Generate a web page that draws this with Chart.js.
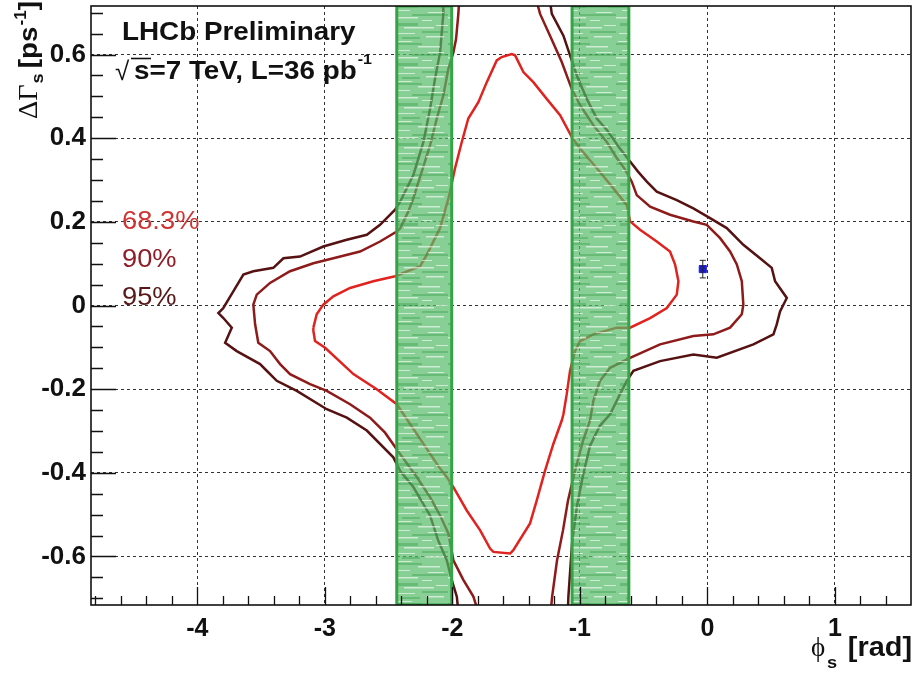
<!DOCTYPE html>
<html>
<head>
<meta charset="utf-8">
<script src="https://cdn.jsdelivr.net/npm/chart.js@4.4.0/dist/chart.umd.min.js"></script>
<style>
  html, body { margin: 0; padding: 0; background: #fff; }
  #wrap { width: 917px; height: 675px; }
</style>
</head>
<body>
<div id="wrap"><canvas id="contourChart" width="917" height="675"></canvas></div>
<script>
// axis ranges and tick labels
const xRange = [-4.834, 1.597];
const yRange = [-0.716, 0.716];
const xTicks = [-4, -3, -2, -1, 0, 1];
const yTicks = [-0.6, -0.4, -0.2, 0, 0.2, 0.4, 0.6];
const xMinorStep = 0.2;
const yMinorStep = 0.05;

// phi_s ranges of the two green bands
const bandLeft = [-2.436, -2.005];
const bandRight = [-1.061, -0.616];

// SM prediction point
const smPhi = [-0.036];
const smDG = [0.087];
const smErr = [0.021];

// 68.3% CL contour (closed)
const cl68 = [
  [-3.090, -0.053], [-3.064, -0.021], [-3.012, 0.002], [-2.933, 0.022], [-2.802, 0.042],
  [-2.620, 0.058], [-2.449, 0.070], [-2.253, 0.094], [-2.201, 0.121], [-2.096, 0.185],
  [-2.031, 0.256], [-1.979, 0.328], [-1.926, 0.391], [-1.875, 0.447], [-1.796, 0.486],
  [-1.730, 0.534], [-1.652, 0.586], [-1.613, 0.594], [-1.534, 0.601], [-1.508, 0.598],
  [-1.443, 0.558], [-1.365, 0.534], [-1.260, 0.494], [-1.155, 0.455], [-1.064, 0.403],
  [-0.998, 0.375], [-0.867, 0.328], [-0.737, 0.280], [-0.632, 0.240], [-0.606, 0.201],
  [-0.528, 0.181], [-0.397, 0.153], [-0.293, 0.129], [-0.253, 0.098], [-0.227, 0.058],
  [-0.240, 0.026], [-0.318, -0.006], [-0.449, -0.030], [-0.606, -0.053], [-0.711, -0.053],
  [-0.894, -0.069], [-0.998, -0.085], [-1.038, -0.109], [-1.077, -0.156], [-1.103, -0.212],
  [-1.129, -0.260], [-1.142, -0.275], [-1.208, -0.331], [-1.273, -0.395], [-1.338, -0.466],
  [-1.391, -0.521], [-1.522, -0.585], [-1.547, -0.593], [-1.678, -0.589], [-1.704, -0.581],
  [-1.783, -0.537], [-1.887, -0.490], [-1.992, -0.434], [-2.044, -0.410], [-2.096, -0.390],
  [-2.436, -0.236], [-2.593, -0.200], [-2.776, -0.164], [-2.998, -0.101], [-3.077, -0.085],
  [-3.090, -0.061], [-3.090, -0.053]
];

// 90% CL contour, left and right branches (both leave the frame)
const cl90Left = [
  [-1.945, 0.740], [-1.953, 0.697], [-1.971, 0.637], [-1.992, 0.605], [-2.031, 0.566],
  [-2.071, 0.502], [-2.122, 0.447], [-2.175, 0.383], [-2.240, 0.320], [-2.306, 0.256],
  [-2.345, 0.225], [-2.410, 0.184], [-2.436, 0.177], [-2.567, 0.153], [-2.724, 0.129],
  [-2.933, 0.113], [-3.090, 0.101], [-3.273, 0.082], [-3.430, 0.054], [-3.534, 0.026],
  [-3.561, 0.002], [-3.547, -0.045], [-3.522, -0.089], [-3.430, -0.109], [-3.351, -0.140],
  [-3.273, -0.164], [-3.116, -0.188], [-2.985, -0.204], [-2.802, -0.236], [-2.646, -0.268],
  [-2.528, -0.304], [-2.410, -0.355], [-2.279, -0.410], [-2.175, -0.458], [-2.096, -0.502],
  [-2.031, -0.545], [-1.992, -0.609], [-1.914, -0.656], [-1.835, -0.696], [-1.790, -0.740]
];
const cl90Right = [
  [-1.350, 0.740], [-1.312, 0.697], [-1.234, 0.645], [-1.142, 0.582], [-1.064, 0.518],
  [-0.998, 0.479], [-0.894, 0.431], [-0.789, 0.391], [-0.716, 0.355], [-0.645, 0.325],
  [-0.593, 0.296], [-0.554, 0.264], [-0.449, 0.236], [-0.293, 0.217], [-0.110, 0.201],
  [-0.005, 0.193], [0.100, 0.161], [0.178, 0.129], [0.231, 0.098], [0.270, 0.058],
  [0.282, 0.002], [0.270, -0.021], [0.178, -0.053], [0.047, -0.069], [-0.110, -0.073],
  [-0.371, -0.093], [-0.606, -0.125], [-0.763, -0.149], [-0.842, -0.180], [-0.894, -0.228],
  [-0.920, -0.275], [-0.975, -0.323], [-1.038, -0.395], [-1.093, -0.466], [-1.132, -0.537],
  [-1.179, -0.609], [-1.218, -0.697], [-1.230, -0.740]
];

// 95% CL contour, left and right branches
const cl95Left = [
  [-2.070, 0.740], [-2.071, 0.697], [-2.096, 0.605], [-2.136, 0.542], [-2.175, 0.470],
  [-2.227, 0.391], [-2.306, 0.312], [-2.410, 0.248], [-2.449, 0.229], [-2.567, 0.193],
  [-2.671, 0.169], [-2.828, 0.157], [-3.012, 0.141], [-3.195, 0.117], [-3.325, 0.113],
  [-3.404, 0.090], [-3.561, 0.082], [-3.639, 0.074], [-3.718, 0.034], [-3.796, -0.006],
  [-3.835, -0.018], [-3.796, -0.030], [-3.730, -0.053], [-3.782, -0.089], [-3.691, -0.109],
  [-3.508, -0.140], [-3.456, -0.156], [-3.377, -0.180], [-3.220, -0.204], [-2.985, -0.248],
  [-2.828, -0.268], [-2.671, -0.299], [-2.463, -0.363], [-2.410, -0.395], [-2.306, -0.434],
  [-2.175, -0.502], [-2.112, -0.561], [-2.044, -0.609], [-2.005, -0.656], [-1.965, -0.696],
  [-1.950, -0.740]
];
const cl95Right = [
  [-1.240, 0.740], [-1.220, 0.697], [-1.129, 0.645], [-1.077, 0.598], [-1.024, 0.550],
  [-0.946, 0.494], [-0.867, 0.447], [-0.789, 0.420], [-0.685, 0.375], [-0.606, 0.344],
  [-0.544, 0.320], [-0.475, 0.296], [-0.397, 0.272], [-0.240, 0.252], [-0.110, 0.232],
  [0.021, 0.209], [0.152, 0.185], [0.282, 0.145], [0.413, 0.113], [0.505, 0.090],
  [0.531, 0.058], [0.623, 0.018], [0.570, -0.014], [0.544, -0.045], [0.518, -0.069],
  [0.361, -0.093], [0.074, -0.125], [-0.110, -0.117], [-0.371, -0.133], [-0.580, -0.156],
  [-0.632, -0.180], [-0.685, -0.212], [-0.763, -0.260], [-0.842, -0.287], [-0.920, -0.335],
  [-0.975, -0.406], [-1.022, -0.478], [-1.061, -0.568], [-1.090, -0.696], [-1.095, -0.740]
];

const toXY = pts => pts.map(p => ({ x: p[0], y: p[1] }));
const bandShape = r => [
  { x: r[0], y: yRange[0] }, { x: r[0], y: yRange[1] },
  { x: r[1], y: yRange[1] }, { x: r[1], y: yRange[0] }, { x: r[0], y: yRange[0] }
];

const canvas = document.getElementById('contourChart');
const ctx = canvas.getContext('2d');

// streaky green fill like the scanned band
function bandPattern() {
  const c = document.createElement('canvas');
  c.width = 56; c.height = 40;
  const g = c.getContext('2d');
  g.fillStyle = 'rgba(86,186,104,0.70)';
  g.fillRect(0, 0, 56, 40);
  g.fillStyle = 'rgba(40,150,64,0.35)';
  [[0, 3, 30, 2], [20, 14, 36, 2], [4, 23, 22, 3], [30, 31, 26, 2], [10, 37, 18, 2]]
    .forEach(r => g.fillRect(r[0], r[1], r[2], r[3]));
  g.fillStyle = 'rgba(255,255,255,0.6)';
  [[2, 1, 18, 1], [26, 6, 22, 1.5], [6, 10, 12, 1], [36, 12, 16, 1], [0, 17, 26, 1.5],
   [30, 20, 10, 1], [12, 27, 30, 1.5], [44, 25, 12, 1], [3, 33, 20, 1], [34, 36, 18, 1.5]]
    .forEach(r => g.fillRect(r[0], r[1], r[2], r[3]));
  return ctx.createPattern(c, 'repeat');
}
const greenFill = bandPattern();

const contourSet = (label, pts, color, order) => ({
  label: label,
  data: toXY(pts),
  showLine: true,
  borderColor: color,
  borderWidth: 2.5,
  pointRadius: 0,
  tension: 0,
  fill: false,
  order: order
});
const bandSet = (label, r) => ({
  label: label,
  data: bandShape(r),
  showLine: true,
  borderColor: '#35a447',
  borderWidth: 3,
  backgroundColor: greenFill,
  pointRadius: 0,
  tension: 0,
  fill: 'shape',
  order: 1
});

// draw text with a slight horizontal stretch, returns width
function txt(c, s, x, y, font, color, sx) {
  sx = sx || 1.07;
  c.save();
  c.translate(x, y);
  c.scale(sx, 1);
  c.font = font;
  c.fillStyle = color;
  c.fillText(s, 0, 0);
  const w = c.measureText(s).width * sx;
  c.restore();
  return w;
}

const rootStyle = {
  id: 'rootStyle',
  afterDatasetsDraw(chart) {
    const c = chart.ctx;
    const a = chart.chartArea;
    const xs = chart.scales.x, ys = chart.scales.y;
    c.save();
    // error bar of the SM point
    c.strokeStyle = '#222';
    c.lineWidth = 1;
    smPhi.forEach((v, i) => {
      const px = xs.getPixelForValue(v);
      const lo = ys.getPixelForValue(smDG[i] - smErr[i]);
      const hi = ys.getPixelForValue(smDG[i] + smErr[i]);
      c.beginPath();
      c.moveTo(px, lo); c.lineTo(px, hi);
      c.moveTo(px - 3, lo); c.lineTo(px + 3, lo);
      c.moveTo(px - 3, hi); c.lineTo(px + 3, hi);
      c.stroke();
    });
    // inward tick marks
    c.strokeStyle = '#111';
    c.lineWidth = 1.3;
    c.beginPath();
    for (let i = Math.ceil(xRange[0] / xMinorStep); i * xMinorStep <= xRange[1]; i++) {
      const v = i * xMinorStep;
      const px = Math.round(xs.getPixelForValue(v)) + 0.5;
      const major = Math.abs(v - Math.round(v)) < 1e-6;
      c.moveTo(px, a.bottom);
      c.lineTo(px, a.bottom - (major ? 18 : 9));
    }
    for (let i = Math.ceil(yRange[0] / yMinorStep); i * yMinorStep <= yRange[1] + 1e-9; i++) {
      const v = i * yMinorStep;
      const py = Math.round(ys.getPixelForValue(v)) + 0.5;
      const major = Math.abs(v / 0.2 - Math.round(v / 0.2)) < 1e-6;
      c.moveTo(a.left, py);
      c.lineTo(a.left + (major ? 25 : 12), py);
    }
    c.stroke();
    // frame
    c.lineWidth = 1.6;
    c.strokeStyle = '#111';
    c.strokeRect(a.left, a.top, a.right - a.left, a.bottom - a.top);
    c.restore();
  },
  afterDraw(chart) {
    const c = chart.ctx;
    const bold = s => 'bold ' + s + 'px "Liberation Sans", Arial, sans-serif';
    const reg = s => s + 'px "Liberation Sans", Arial, sans-serif';
    c.save();
    c.textBaseline = 'alphabetic';
    // header
    txt(c, 'LHCb Preliminary', 122, 40, bold(26), '#111');
    txt(c, '\u221A', 115, 80, reg(26), '#111', 1);
    c.strokeStyle = '#111';
    c.lineWidth = 1.6;
    c.beginPath();
    c.moveTo(131, 58.5); c.lineTo(151, 58.5);
    c.stroke();
    let w = txt(c, 's=7 TeV, L=36 pb', 134, 79, bold(26), '#111');
    txt(c, '-1', 134 + w + 1, 64, bold(15), '#111');
    // contour level labels
    txt(c, '68.3%', 122, 229, reg(26), '#cf3434', 1.05);
    txt(c, '90%', 122, 267, reg(26), '#8e1e28', 1.05);
    txt(c, '95%', 122, 305, reg(26), '#581818', 1.05);
    // y axis title, rotated
    c.save();
    c.translate(37, 119);
    c.rotate(-Math.PI / 2);
    let cx = 0;
    cx += txt(c, '\u0394\u0393', cx, 0, '27px "Liberation Serif", serif', '#111', 1.05);
    cx += txt(c, 's', cx + 1, 6, bold(17), '#111') + 6;
    cx += txt(c, '[ps', cx, 0, bold(26), '#111');
    cx += txt(c, '-1', cx + 1, -11, bold(16), '#111') + 1;
    txt(c, ']', cx, 0, bold(26), '#111');
    c.restore();
    // x axis title
    txt(c, '\u03D5', 811, 656, '27px "Liberation Serif", "DejaVu Serif", serif', '#111', 1.0);
    txt(c, 's', 827, 668, bold(17), '#111');
    c.textAlign = 'right';
    c.font = bold(27);
    c.save();
    c.translate(912, 656);
    c.scale(1.07, 1);
    c.fillStyle = '#111';
    c.fillText('[rad]', 0, 0);
    c.restore();
    c.restore();
  }
};

new Chart(ctx, {
  type: 'scatter',
  data: {
    datasets: [
      {
        label: 'SM',
        data: smPhi.map((v, i) => ({ x: v, y: smDG[i] })),
        pointStyle: 'rect',
        pointRadius: 5,
        backgroundColor: '#1a1ad2',
        borderColor: '#1a1ad2',
        order: 0
      },
      bandSet('band A', bandLeft),
      bandSet('band B', bandRight),
      contourSet('68.3%', cl68, '#e0231f', 2),
      contourSet('90% left', cl90Left, '#8e1a1a', 3),
      contourSet('90% right', cl90Right, '#8e1a1a', 3),
      contourSet('95% left', cl95Left, '#561212', 4),
      contourSet('95% right', cl95Right, '#561212', 4)
    ]
  },
  options: {
    responsive: false,
    animation: false,
    events: [],
    devicePixelRatio: 1,
    layout: { padding: { top: 3, right: 6, left: 0, bottom: 0 } },
    plugins: {
      legend: { display: false },
      tooltip: { enabled: false }
    },
    scales: {
      x: {
        type: 'linear',
        min: xRange[0],
        max: xRange[1],
        afterBuildTicks: s => { s.ticks = xTicks.map(v => ({ value: v })); },
        afterFit: s => { s.height = 70; s.paddingLeft = 0; s.paddingRight = 0; },
        ticks: {
          color: '#111',
          padding: 9,
          font: { family: '"Liberation Sans", Arial, sans-serif', size: 25, weight: 'bold' },
          callback: v => String(v)
        },
        grid: { color: '#333', lineWidth: 1, drawTicks: false },
        border: { display: false, dash: [3, 3] }
      },
      y: {
        type: 'linear',
        min: yRange[0],
        max: yRange[1],
        afterBuildTicks: s => { s.ticks = yTicks.map(v => ({ value: v })); },
        afterFit: s => { s.width = 91; s.paddingTop = 0; s.paddingBottom = 0; },
        ticks: {
          color: '#111',
          padding: 5,
          font: { family: '"Liberation Sans", Arial, sans-serif', size: 26, weight: 'bold' },
          callback: v => String(v)
        },
        grid: { color: '#333', lineWidth: 1, drawTicks: false },
        border: { display: false, dash: [3, 3] }
      }
    }
  },
  plugins: [rootStyle]
});
</script>
</body>
</html>
